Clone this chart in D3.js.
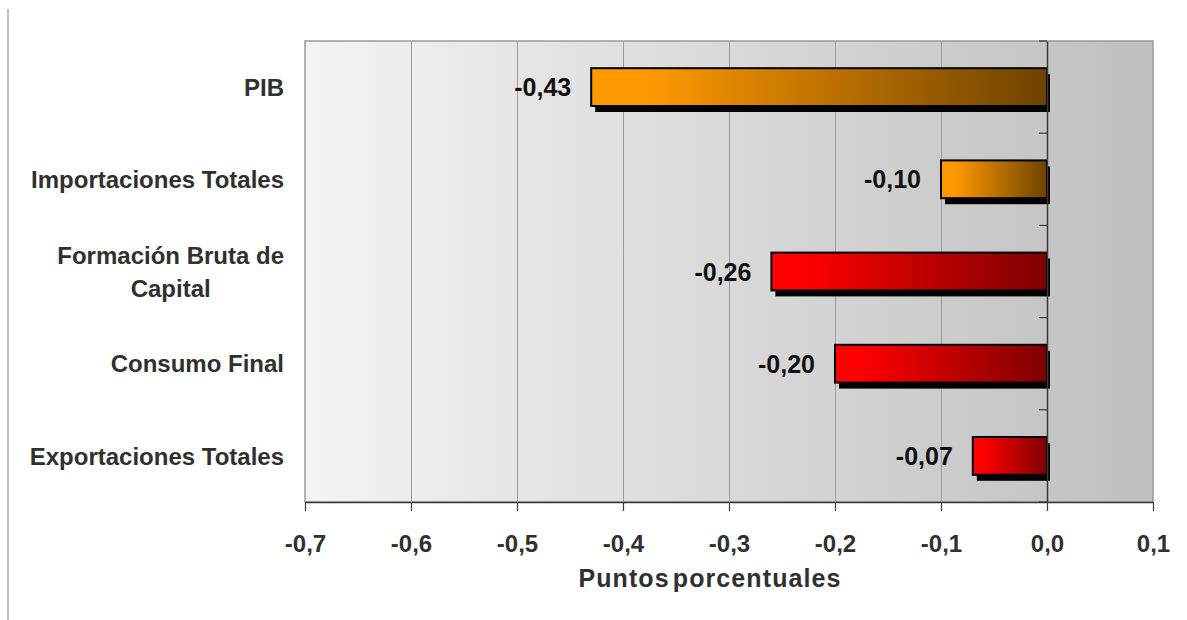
<!DOCTYPE html>
<html>
<head>
<meta charset="utf-8">
<script src="https://cdn.jsdelivr.net/npm/d3@7"></script>
<style>
  html, body { margin: 0; padding: 0; background: #fff; }
  svg { display: block; font-family: "Liberation Sans", Arial, sans-serif; }
</style>
</head>
<body>
<svg id="chart" width="1187" height="620"></svg>
<script>
// Contribution by component, in percentage points
const categories = ["PIB", "Importaciones Totales", "Formación Bruta de Capital", "Consumo Final", "Exportaciones Totales"];
const categoryLines = [["PIB"], ["Importaciones Totales"], ["Formación Bruta de", "Capital"], ["Consumo Final"], ["Exportaciones Totales"]];
const values = [-0.43, -0.10, -0.26, -0.20, -0.07];
const valueLabels = ["-0,43", "-0,10", "-0,26", "-0,20", "-0,07"];
const groups = ["orange", "orange", "red", "red", "red"];
const xTicks = [-0.7, -0.6, -0.5, -0.4, -0.3, -0.2, -0.1, 0.0, 0.1];
const xTickLabels = ["-0,7", "-0,6", "-0,5", "-0,4", "-0,3", "-0,2", "-0,1", "0,0", "0,1"];
const axisTitle = "Puntos porcentuales";

const svg = d3.select("#chart");
const plot = { left: 305, right: 1153, top: 41, bottom: 502 };

const x = d3.scaleLinear().domain([-0.7, 0.1]).range([plot.left, plot.right]);
const y = d3.scaleBand().domain(categories).range([plot.top, plot.bottom]).padding(0);

const defs = svg.append("defs");

// Plot background: light to darker gray from left to right
const bg = defs.append("linearGradient").attr("id", "bgGrad").attr("x1", "0%").attr("x2", "100%").attr("y1", "0%").attr("y2", "0%");
bg.append("stop").attr("offset", "0%").attr("stop-color", "#f3f3f3");
bg.append("stop").attr("offset", "100%").attr("stop-color", "#bfbfbf");

const fills = {
  orange: ["#ff9900", "#6e4300"],
  red: ["#ff0000", "#7e0000"]
};
Object.entries(fills).forEach(([k, [c0, c1]]) => {
  const g = defs.append("linearGradient").attr("id", "bar-" + k).attr("x1", "0%").attr("x2", "100%").attr("y1", "0%").attr("y2", "0%");
  g.append("stop").attr("offset", "0%").attr("stop-color", c0);
  g.append("stop").attr("offset", "12%").attr("stop-color", c0);
  g.append("stop").attr("offset", "100%").attr("stop-color", c1);
});

// Page frame line on the left
svg.append("line").attr("x1", 8).attr("x2", 8).attr("y1", 9).attr("y2", 620)
  .attr("stroke", "#bdbdbd").attr("stroke-width", 2);

// Plot area
svg.append("rect")
  .attr("x", plot.left).attr("y", plot.top)
  .attr("width", plot.right - plot.left).attr("height", plot.bottom - plot.top)
  .attr("fill", "url(#bgGrad)").attr("stroke", "#9a9a9a").attr("stroke-width", 1.5);

// Vertical gridlines
svg.append("g").selectAll("line")
  .data(xTicks.filter(t => t > -0.7 + 1e-9 && t < 0.1 - 1e-9 && Math.abs(t) > 1e-9))
  .join("line")
  .attr("x1", d => Math.round(x(d)) + 0.5).attr("x2", d => Math.round(x(d)) + 0.5)
  .attr("y1", plot.top).attr("y2", plot.bottom)
  .attr("stroke", "#9c9c9c").attr("stroke-width", 1);

// Bottom axis
const xAxis = d3.axisBottom(x)
  .tickValues(xTicks)
  .tickFormat((d, i) => xTickLabels[i])
  .tickSizeInner(9).tickSizeOuter(0).tickPadding(24);
const gx = svg.append("g").attr("transform", `translate(0,${plot.bottom})`).call(xAxis);
gx.select(".domain").attr("stroke", "#3a3a3a").attr("stroke-width", 1.5);
gx.selectAll(".tick line").attr("stroke", "#3a3a3a").attr("stroke-width", 1.2);
gx.selectAll(".tick text")
  .attr("fill", "#303030").attr("font-size", 24).attr("font-weight", "bold")
  .attr("font-family", "'Liberation Sans', Arial, sans-serif");

// Axis title
svg.append("text")
  .attr("x", (x(-0.4) + x(-0.2)) / 2 - 19).attr("y", 587)
  .attr("text-anchor", "middle")
  .attr("font-size", 25).attr("font-weight", "bold").attr("fill", "#303030")
  .attr("letter-spacing", 1.1).attr("word-spacing", -5)
  .text(axisTitle);

// Bars: drop shadow, then gradient-filled bar
const barH = y.bandwidth() * 0.41;
const bars = svg.append("g").selectAll("g").data(categories).join("g");

bars.append("rect")
  .attr("x", (d, i) => x(values[i]) + 4)
  .attr("y", d => y(d) + (y.bandwidth() - barH) / 2 + 6)
  .attr("width", (d, i) => x(0) - x(values[i]) - 1)
  .attr("height", barH)
  .attr("fill", "#000");

bars.append("rect")
  .attr("x", (d, i) => x(values[i]))
  .attr("y", d => y(d) + (y.bandwidth() - barH) / 2)
  .attr("width", (d, i) => x(0) - x(values[i]))
  .attr("height", barH)
  .attr("fill", (d, i) => `url(#bar-${groups[i]})`)
  .attr("stroke", "#000").attr("stroke-width", 2);

// Vertical axis at zero with category ticks to the left
const yAxis = d3.axisLeft(y).tickValues([]).tickSizeOuter(0);
const gy = svg.append("g").attr("transform", `translate(${x(0)},0)`).call(yAxis);
gy.select(".domain").attr("stroke", "#3a3a3a").attr("stroke-width", 1.5);
const boundaries = categories.map(c => y(c)).concat([plot.bottom]);
svg.append("g").selectAll("line").data(boundaries).join("line")
  .attr("x1", x(0) - 8).attr("x2", x(0))
  .attr("y1", d => d).attr("y2", d => d)
  .attr("stroke", "#3a3a3a").attr("stroke-width", 1.2);

// Value labels
svg.append("g").selectAll("text").data(categories).join("text")
  .attr("x", (d, i) => x(values[i]) - 20)
  .attr("y", d => y(d) + y.bandwidth() / 2)
  .attr("dy", "0.36em")
  .attr("text-anchor", "end")
  .attr("font-size", 25).attr("font-weight", "bold").attr("fill", "#111")
  .text((d, i) => valueLabels[i]);

// Category labels (multi-line labels are centred on each other, right-aligned as a block)
const catG = svg.append("g");
categories.forEach((c, i) => {
  const lines = categoryLines[i];
  const lh = 33;
  const cy = y(c) + y.bandwidth() / 2;
  const t = catG.append("text")
    .attr("font-size", 24).attr("font-weight", "bold").attr("fill", "#303030");
  lines.forEach((ln, j) => {
    t.append("tspan").text(ln)
      .attr("y", cy + (j - (lines.length - 1) / 2) * lh)
      .attr("dy", "0.36em");
  });
  // Measure the widest line and centre each line within that block
  const tsp = t.selectAll("tspan").nodes();
  const maxW = d3.max(tsp.map(n => n.getComputedTextLength()));
  const rightEdge = 284;
  tsp.forEach(n => {
    d3.select(n).attr("x", rightEdge - maxW / 2).attr("text-anchor", "middle");
  });
});
</script>
</body>
</html>
